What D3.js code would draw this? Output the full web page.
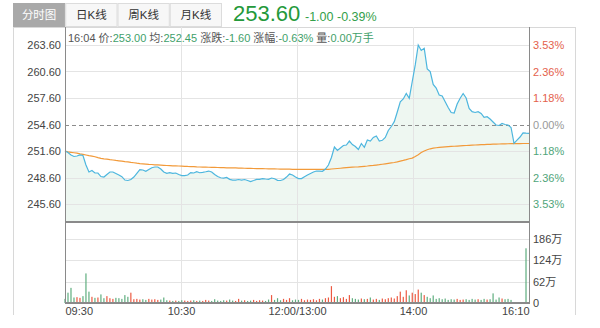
<!DOCTYPE html>
<html>
<head>
<meta charset="utf-8">
<script src="https://cdn.jsdelivr.net/npm/d3@7"></script>
<style>
  html, body { margin: 0; padding: 0; background: #fff; }
  svg { display: block; font-family: "Liberation Sans", Arial, "Noto Sans CJK SC", sans-serif; }
</style>
</head>
<body>
<svg id="chart" width="600" height="328"></svg>
<script>
// ---- data ----
const prevClose = 254.60;
const lastPrice = 253.60;
const lastChange = -1.00;
const lastPct = -0.39;
const tabs = ["分时图", "日K线", "周K线", "月K线"];
const priceTicks = [263.60, 260.60, 257.60, 254.60, 251.60, 248.60, 245.60];
const volTicks = [0, 62, 124, 186];
const timeLabels = ["09:30", "10:30", "12:00/13:00", "14:00", "16:10"];
const infoLabels = ["16:04", "价:", "均:", "涨跌:", "涨幅:", "量:"];
const infoValues = ["", "253.00", "252.45", "-1.60", "-0.63%", "0.00万手"];

// minute price
const price = [
  251.60, 251.43, 251.15, 250.98, 251.03, 251.15, 251.09, 250.01, 249.22, 249.39,
  249.11, 249.11, 248.71, 248.65, 248.94, 249.22, 249.22, 249.05, 248.88, 248.69,
  248.31, 248.26, 248.37, 248.65, 249.07, 249.50, 249.45, 249.30, 249.50, 249.71,
  249.79, 249.79, 249.56, 249.22, 249.07, 249.14, 249.07, 249.11, 248.94, 248.82,
  248.82, 248.88, 249.16, 249.11, 249.25, 249.14, 249.18, 249.25, 249.33, 249.22,
  248.94, 248.71, 248.57, 248.54, 248.60, 248.39, 248.31, 248.31, 248.37, 248.31,
  248.37, 248.26, 248.14, 248.26, 248.39, 248.39, 248.48, 248.43, 248.39, 248.54,
  248.46, 248.28, 248.26, 248.37, 248.65, 248.99, 248.88, 248.65, 248.48, 248.48,
  248.69, 248.88, 249.05, 249.22, 249.33, 249.33, 249.30, 249.56, 250.01, 250.86,
  252.05, 251.66, 251.94, 252.22, 252.28, 252.73, 252.33, 252.11, 251.77, 252.45,
  252.02, 252.84, 252.73, 253.13, 253.30, 252.73, 252.81, 253.13, 253.92, 254.37,
  254.92, 256.02, 257.18, 257.49, 258.11, 257.57, 259.47, 261.34, 263.60, 262.98,
  263.23, 260.89, 260.58, 259.13, 258.73, 257.94, 257.83, 257.18, 256.53, 255.96,
  255.90, 256.92, 257.57, 258.11, 257.60, 256.43, 256.05, 255.96, 256.05, 255.85,
  255.42, 255.48, 255.22, 254.88, 254.54, 254.49, 254.71, 254.60, 254.54, 254.26,
  252.47, 252.84, 253.18, 253.66, 253.62, 253.60
];

// running average price
const avgPrice = [
  251.60, 251.50, 251.45, 251.40, 251.35, 251.28, 251.22, 251.15, 251.08, 251.02,
  250.95, 250.85, 250.76, 250.71, 250.67, 250.62, 250.58, 250.53, 250.49, 250.45,
  250.40, 250.36, 250.31, 250.27, 250.22, 250.18, 250.15, 250.12, 250.09, 250.07,
  250.04, 250.02, 250.00, 249.98, 249.96, 249.94, 249.92, 249.91, 249.90, 249.89,
  249.87, 249.85, 249.84, 249.82, 249.80, 249.79, 249.78, 249.77, 249.76, 249.75,
  249.74, 249.73, 249.72, 249.71, 249.70, 249.69, 249.68, 249.68, 249.67, 249.66,
  249.65, 249.64, 249.63, 249.62, 249.61, 249.61, 249.60, 249.59, 249.58, 249.57,
  249.57, 249.56, 249.55, 249.55, 249.54, 249.54, 249.53, 249.53, 249.52, 249.52,
  249.51, 249.51, 249.51, 249.51, 249.51, 249.51, 249.51, 249.51, 249.53, 249.56,
  249.59, 249.62, 249.65, 249.68, 249.71, 249.74, 249.77, 249.79, 249.81, 249.84,
  249.87, 249.90, 249.94, 249.97, 250.01, 250.05, 250.10, 250.15, 250.20, 250.25,
  250.30, 250.37, 250.45, 250.53, 250.62, 250.72, 250.80, 250.98, 251.18, 251.42,
  251.60, 251.74, 251.85, 251.92, 251.97, 252.01, 252.04, 252.07, 252.10, 252.12,
  252.14, 252.16, 252.18, 252.20, 252.22, 252.24, 252.26, 252.28, 252.30, 252.32,
  252.33, 252.35, 252.36, 252.37, 252.38, 252.39, 252.40, 252.41, 252.42, 252.43,
  252.43, 252.44, 252.44, 252.45, 252.45, 252.45
];

// volume, in 万
const volume = [
  12, 30, 44, 16, 17, 15, 20, 86, 33, 18,
  15, 16, 25, 14, 20, 14, 12, 15, 14, 12,
  23, 18, 30, 11, 12, 10, 11, 9, 12, 10,
  11, 9, 10, 16, 8, 7, 6, 7, 6, 8,
  7, 6, 7, 8, 6, 7, 6, 9, 7, 6,
  11, 7, 6, 8, 7, 10, 7, 6, 12, 7,
  8, 6, 7, 9, 6, 8, 7, 6, 10, 23,
  9, 14, 8, 12, 9, 14, 8, 10, 9, 12,
  8, 10, 9, 11, 8, 12, 10, 14, 16, 49,
  18, 20, 14, 17, 12, 23, 14, 12, 10, 13,
  11, 12, 16, 10, 12, 9, 13, 11, 14, 16,
  13, 20, 33, 18, 37, 22, 30, 26, 39, 30,
  23, 18, 14, 22, 12, 14, 11, 13, 9, 11,
  10, 12, 9, 10, 11, 9, 12, 10, 11, 9,
  12, 10, 11, 28, 10, 16, 13, 11, 12, 9,
  2, 1, 1, 1, 159, 1
];

// ---- layout ----
const L = 65, R = 529;
const frameL = 13, frameR = 575, frameTop = 27, frameBottom = 315;
const priceBottom = 222, volBottom = 303;

const svg = d3.select("#chart");
const n = price.length;

const x = d3.scaleLinear().domain([0, n - 1]).range([L, R]);
const y = d3.scaleLinear().domain([245.6, 263.6]).range([204, 45]);
const yv = d3.scaleLinear().domain([0, 186]).range([volBottom, 239]);

const upColor = "#ec5a42", downColor = "#5fae7f";
const gridColor = "#e4e4e4", axisColor = "#8a8a8a";

// ---- tabs & header ----
const tabX = d3.scaleBand().domain(tabs).range([frameL, 222]).padding(0);
const tabG = svg.append("g");
tabG.selectAll("rect").data(tabs).join("rect")
  .attr("x", d => tabX(d) + 0.5).attr("y", 3.5)
  .attr("width", tabX.bandwidth() - 1).attr("height", 23)
  .attr("fill", (d, i) => i === 0 ? "#a9a9a9" : "#f7f7f7")
  .attr("stroke", (d, i) => i === 0 ? "#a9a9a9" : "#dcdcdc");
tabG.selectAll("text").data(tabs).join("text")
  .attr("x", d => tabX(d) + tabX.bandwidth() / 2).attr("y", 19)
  .attr("text-anchor", "middle").attr("font-size", 11.5)
  .attr("fill", (d, i) => i === 0 ? "#fff" : "#333")
  .text(d => d);

svg.append("text").attr("x", 233).attr("y", 20.5)
  .attr("font-size", 22).attr("fill", "#24993a")
  .text(lastPrice.toFixed(2));
svg.append("text").attr("x", 305).attr("y", 20.5)
  .attr("font-size", 12.5).attr("fill", "#33a04a")
  .text(lastChange.toFixed(2) + "  " + lastPct.toFixed(2) + "%");

// ---- frame ----
const frame = svg.append("g").attr("stroke", "#d8d8d8").attr("fill", "none");
frame.append("line").attr("x1", frameL).attr("x2", frameR).attr("y1", frameTop + 0.5).attr("y2", frameTop + 0.5);
frame.append("line").attr("x1", frameL + 0.5).attr("x2", frameL + 0.5).attr("y1", frameTop).attr("y2", frameBottom);
frame.append("line").attr("x1", frameR + 0.5).attr("x2", frameR + 0.5).attr("y1", frameTop).attr("y2", frameBottom);

// ---- price panel fill ----
const area = d3.area().x((d, i) => x(i)).y0(priceBottom).y1(d => y(d));
svg.append("path").datum(price).attr("d", area).attr("fill", "#eef7f1");

// ---- grid ----
const quarterPos = timeLabels.map((t, i) => (n - 1) * i / (timeLabels.length - 1));
const grid = svg.append("g").attr("stroke", gridColor).attr("stroke-width", 1);
grid.selectAll("line.v").data(quarterPos.slice(1, -1)).join("line")
  .attr("class", "v")
  .attr("x1", d => Math.round(x(d)) + 0.5).attr("x2", d => Math.round(x(d)) + 0.5)
  .attr("y1", frameTop).attr("y2", volBottom);
grid.selectAll("line.h").data(priceTicks.filter(p => p !== prevClose)).join("line")
  .attr("class", "h")
  .attr("x1", L).attr("x2", R)
  .attr("y1", d => Math.round(y(d)) + 0.5).attr("y2", d => Math.round(y(d)) + 0.5);
grid.selectAll("line.vh").data(volTicks.slice(1)).join("line")
  .attr("class", "vh")
  .attr("x1", L).attr("x2", R)
  .attr("y1", d => Math.round(yv(d)) + 0.5).attr("y2", d => Math.round(yv(d)) + 0.5);

// previous close reference line
svg.append("line")
  .attr("x1", L).attr("x2", R)
  .attr("y1", Math.round(y(prevClose)) + 0.5).attr("y2", Math.round(y(prevClose)) + 0.5)
  .attr("stroke", "#8c8c8c").attr("stroke-dasharray", "4,3");

// ---- lines ----
const line = d3.line().x((d, i) => x(i)).y(d => y(d));
svg.append("path").datum(avgPrice).attr("d", line)
  .attr("fill", "none").attr("stroke", "#f29a3a").attr("stroke-width", 1.2);
svg.append("path").datum(price).attr("d", line)
  .attr("fill", "none").attr("stroke", "#4db6de").attr("stroke-width", 1.2);

// ---- volume bars ----
svg.append("g").selectAll("rect").data(volume).join("rect")
  .attr("x", (d, i) => x(i) - 0.6)
  .attr("width", 1.2)
  .attr("y", d => yv(d))
  .attr("height", d => volBottom - yv(d))
  .attr("fill", (d, i) => (i === 0 ? price[0] >= prevClose : price[i] >= price[i - 1]) ? upColor : downColor);

// ---- axes lines ----
const ax = svg.append("g").attr("stroke", axisColor);
ax.append("line").attr("x1", L + 0.5).attr("x2", L + 0.5).attr("y1", frameTop).attr("y2", volBottom + 1);
ax.append("line").attr("x1", R + 0.5).attr("x2", R + 0.5).attr("y1", frameTop).attr("y2", volBottom + 1);
ax.append("line").attr("x1", L).attr("x2", R + 1).attr("y1", priceBottom).attr("y2", priceBottom).attr("stroke-width", 2);
ax.append("line").attr("x1", L).attr("x2", R + 1).attr("y1", volBottom).attr("y2", volBottom).attr("stroke-width", 2);

// ---- tick labels ----
function styleAxis(g) {
  g.select(".domain").remove();
  g.selectAll(".tick line").remove();
  g.attr("font-family", null).attr("font-size", 11);
}

svg.append("g").attr("transform", `translate(${L},0)`)
  .call(d3.axisLeft(y).tickValues(priceTicks).tickFormat(d3.format(".2f")).tickSize(0).tickPadding(4))
  .call(styleAxis)
  .selectAll("text").attr("fill", "#444");

svg.append("g").attr("transform", `translate(${R},0)`)
  .call(d3.axisRight(y).tickValues(priceTicks)
    .tickFormat(p => Math.abs((p - prevClose) / prevClose * 100).toFixed(2) + "%")
    .tickSize(0).tickPadding(4))
  .call(styleAxis)
  .selectAll("text").attr("fill", p => p > prevClose ? "#e4614c" : p < prevClose ? "#4fa57a" : "#999");

svg.append("g").attr("transform", `translate(${R},0)`)
  .call(d3.axisRight(yv).tickValues(volTicks).tickFormat(v => v === 0 ? "0" : v + "万").tickSize(0).tickPadding(4))
  .call(styleAxis)
  .selectAll("text").attr("fill", "#444");

const xAxisG = svg.append("g").attr("transform", `translate(0,${volBottom})`)
  .call(d3.axisBottom(x).tickValues(quarterPos).tickFormat((d, i) => timeLabels[i]).tickSize(0).tickPadding(4))
  .call(styleAxis);
xAxisG.selectAll("text").attr("fill", "#444")
  .attr("text-anchor", (d, i) => i === 0 ? "start" : i === timeLabels.length - 1 ? "end" : "middle");

// ---- info row ----
const info = svg.append("text").attr("x", 68).attr("y", 41.5).attr("font-size", 11);
infoLabels.forEach((lab, i) => {
  info.append("tspan").attr("fill", "#555").text((i ? " " : "") + lab);
  if (infoValues[i]) info.append("tspan").attr("fill", "#3f9f6a").text(infoValues[i]);
});
</script>
</body>
</html>
